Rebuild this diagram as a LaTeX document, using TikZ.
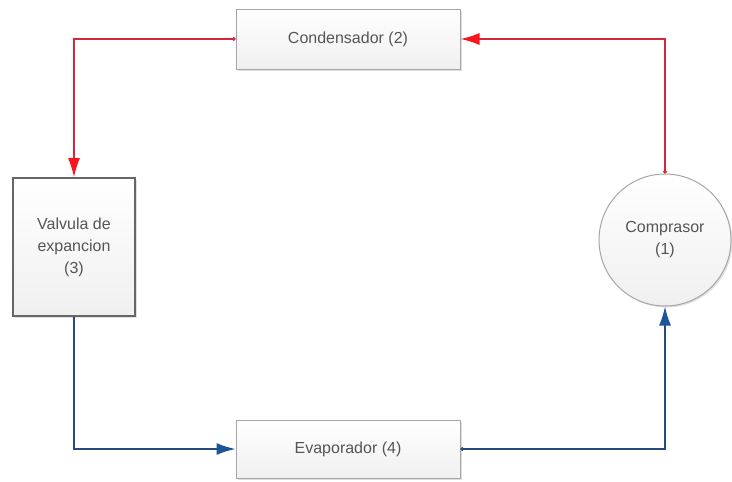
\documentclass[tikz,border=0pt]{standalone}
\usepackage{fontspec}
\setmainfont{Liberation Sans}
\usetikzlibrary{arrows.meta,shadows}
\definecolor{hotline}{RGB}{210,40,60}
\definecolor{hottip}{RGB}{250,20,30}
\definecolor{coldline}{RGB}{40,75,125}
\definecolor{coldtip}{RGB}{30,85,150}
\definecolor{labelgray}{RGB}{85,85,85}
\tikzset{
  unit/.style={draw=gray!70, line width=1pt, top color=white, bottom color=gray!12,
    text=labelgray, font=\fontsize{16}{22}\selectfont, align=center,
    drop shadow={shadow xshift=1.5pt, shadow yshift=-1.5pt, opacity=0.25}},
  valvebox/.style={unit, draw=gray!80!black, line width=1.8pt},
  hotflow/.style={draw=hotline, line width=1.4pt,
    -{Latex[length=19pt,width=12pt,color=hottip]}},
  coldflow/.style={draw=coldline, line width=1.4pt,
    -{Latex[length=19pt,width=12pt,color=coldtip]}},
  hotstart/.style={{Circle[length=3.5pt]}-{Latex[length=19pt,width=12pt,color=hottip]}},
  coldstart/.style={{Circle[length=3.5pt]}-{Latex[length=19pt,width=12pt,color=coldtip]}}
}
\begin{document}
\begin{tikzpicture}[x=1pt,y=-1pt]
\useasboundingbox (0,0) rectangle (732,482);

\node[unit, minimum width=224pt, minimum height=60pt] (cond) at (348,39) {Condensador (2)};
\node[valvebox, minimum width=122pt, minimum height=138pt] (valv) at (74,247) {Valvula de\\expancion\\(3)};
\node[unit, circle, minimum size=132pt, inner sep=0pt] (comp) at (665,240) {Comprasor\\(1)};
\node[unit, minimum width=224pt, minimum height=58pt] (evap) at (348,449) {Evaporador (4)};

\draw[hotflow, hotstart] (comp.north) |- (cond.east);
\draw[hotflow, hotstart] (cond.west) -| (valv.north);
\draw[coldflow] (valv.south) |- (evap.west);
\draw[coldflow, coldstart] (evap.east) -| (comp.south);
\end{tikzpicture}
\end{document}
